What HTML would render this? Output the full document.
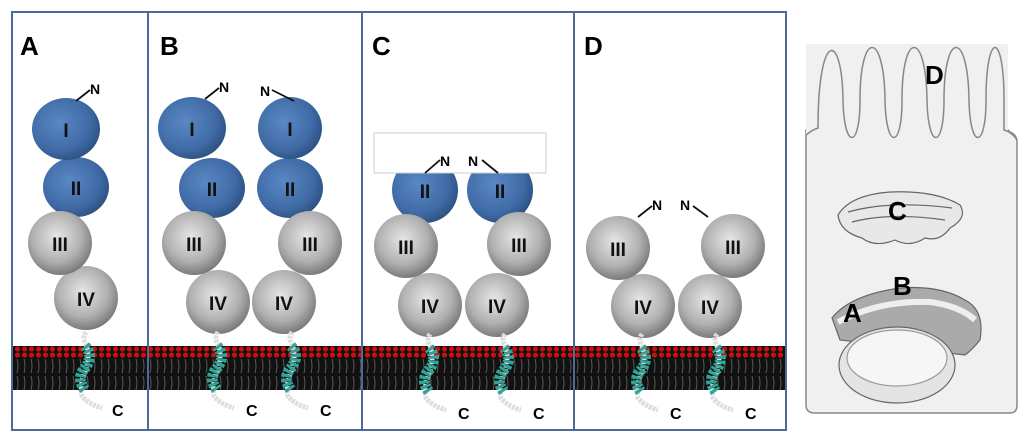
<!DOCTYPE html>
<html><head><meta charset="utf-8"><style>html,body{margin:0;padding:0;background:#fff}svg{display:block}</style></head>
<body>
<svg width="1024" height="437" viewBox="0 0 1024 437" xmlns="http://www.w3.org/2000/svg" font-family="Liberation Sans, sans-serif" font-weight="bold">
<defs>
<radialGradient id="gb" cx="0.4" cy="0.4" r="0.65"><stop offset="0" stop-color="#5a88c4"/><stop offset="0.7" stop-color="#3f6aa5"/><stop offset="1" stop-color="#2c4f80"/></radialGradient>
<radialGradient id="gg" cx="0.45" cy="0.4" r="0.65"><stop offset="0" stop-color="#e6e6e6"/><stop offset="0.6" stop-color="#b0b0b0"/><stop offset="1" stop-color="#6e6e6e"/></radialGradient>
<pattern id="lip" width="7" height="44" patternUnits="userSpaceOnUse">
<rect width="7" height="44" fill="#111"/>
<circle cx="3.5" cy="3" r="2.6" fill="#c81010"/>
<circle cx="3.5" cy="41" r="2.6" fill="#c81010"/>
<path d="M3 7 q2 7 0 14 M3 24 q2 7 0 14" stroke="#5a5a5a" stroke-width="1" fill="none"/>
</pattern>
<g id="hx"><path d="M0 332 q-4 6 0 12 q5 15 -2 30 q-4 12 -2 22 q6 8 20 12" stroke="#ddd" stroke-width="5" fill="none" stroke-dasharray="3 1"/><path d="M-1 346 q9 10 0 22 q-9 10 0 22" stroke="#2fa597" stroke-width="11" fill="none" stroke-dasharray="3 1.5"/></g>
</defs>
<rect x="12" y="346" width="774" height="44" fill="url(#lip)"/>
<g fill="none" stroke="#4d6b95" stroke-width="2">
<rect x="12" y="12" width="136" height="418"/>
<rect x="148" y="12" width="214" height="418"/>
<rect x="362" y="12" width="212" height="418"/>
<rect x="574" y="12" width="212" height="418"/>
</g>
<g font-size="26" fill="#000">
<text x="20" y="55">A</text><text x="160" y="55">B</text><text x="372" y="55">C</text><text x="584" y="55">D</text>
</g>
<g>
<ellipse cx="76" cy="187" rx="33" ry="30" fill="url(#gb)"/>
<ellipse cx="66" cy="129" rx="34" ry="31" fill="url(#gb)"/>
<circle cx="86" cy="298" r="32" fill="url(#gg)"/>
<circle cx="60" cy="243" r="32" fill="url(#gg)"/>
<ellipse cx="212" cy="188" rx="33" ry="30" fill="url(#gb)"/>
<ellipse cx="192" cy="128" rx="34" ry="31" fill="url(#gb)"/>
<ellipse cx="290" cy="188" rx="33" ry="30" fill="url(#gb)"/>
<ellipse cx="290" cy="128" rx="32" ry="31" fill="url(#gb)"/>
<circle cx="218" cy="302" r="32" fill="url(#gg)"/>
<circle cx="194" cy="243" r="32" fill="url(#gg)"/>
<circle cx="284" cy="302" r="32" fill="url(#gg)"/>
<circle cx="310" cy="243" r="32" fill="url(#gg)"/>
<circle cx="425" cy="190" r="33" fill="url(#gb)"/>
<circle cx="500" cy="190" r="33" fill="url(#gb)"/>
<rect x="374" y="133" width="172" height="40" fill="#fff" stroke="#ccc" stroke-width="1"/>
<circle cx="430" cy="305" r="32" fill="url(#gg)"/>
<circle cx="406" cy="246" r="32" fill="url(#gg)"/>
<circle cx="497" cy="305" r="32" fill="url(#gg)"/>
<circle cx="519" cy="244" r="32" fill="url(#gg)"/>
<circle cx="643" cy="306" r="32" fill="url(#gg)"/>
<circle cx="618" cy="248" r="32" fill="url(#gg)"/>
<circle cx="710" cy="306" r="32" fill="url(#gg)"/>
<circle cx="733" cy="246" r="32" fill="url(#gg)"/>
</g>
<g stroke="#111" stroke-width="1.8" fill="none">
<path d="M76 101 L90 90"/><path d="M205 99 L219 88"/><path d="M272 90 L294 101"/>
<path d="M425 173 L440 160"/><path d="M482 160 L498 173"/>
<path d="M638 217 L652 206"/><path d="M693 206 L708 217"/>
</g>
<g font-size="14" fill="#000">
<text x="90" y="94">N</text><text x="219" y="92">N</text><text x="260" y="96">N</text>
<text x="440" y="166">N</text><text x="468" y="166">N</text>
<text x="652" y="210">N</text><text x="680" y="210">N</text>
</g>
<g font-size="19" fill="#111" text-anchor="middle">
<text x="66" y="137">I</text><text x="76" y="195">II</text><text x="60" y="251">III</text><text x="86" y="306">IV</text>
<text x="192" y="136">I</text><text x="212" y="196">II</text><text x="194" y="251">III</text><text x="218" y="310">IV</text>
<text x="290" y="136">I</text><text x="290" y="196">II</text><text x="310" y="251">III</text><text x="284" y="310">IV</text>
<text x="425" y="198">II</text><text x="500" y="198">II</text><text x="406" y="254">III</text><text x="519" y="252">III</text><text x="430" y="313">IV</text><text x="497" y="313">IV</text>
<text x="618" y="256">III</text><text x="733" y="254">III</text><text x="643" y="314">IV</text><text x="710" y="314">IV</text>
</g>
<use href="#hx" x="86"/><use href="#hx" x="218"/><use href="#hx" x="292"/>
<use href="#hx" x="430" y="2"/><use href="#hx" x="505" y="2"/><use href="#hx" x="642" y="2"/><use href="#hx" x="717" y="2"/>
<g font-size="16" fill="#000">
<text x="112" y="416">C</text><text x="246" y="416">C</text><text x="320" y="416">C</text>
<text x="458" y="419">C</text><text x="533" y="419">C</text><text x="670" y="419">C</text><text x="745" y="419">C</text>
</g>
<g fill="#f0f0f0" stroke="#888" stroke-width="1.5">
<path d="M806 130 L806 405 Q806 413 815 413 L1010 413 Q1017 413 1017 405 L1017 142 Q1017 135 1010 132 L1008 130 Z"/>
</g>
<rect x="806" y="44" width="202" height="90" fill="#f0f0f0"/>
<path d="M806 135 Q812 130 818 128 C818 30 842 30 843 100 C844 150 860 150 860 100 C860 30 884 30 885 100 C886 150 902 150 902 100 C902 30 926 30 927 100 C928 150 944 150 944 100 C944 30 968 30 969 100 C970 150 986 150 986 100 C986 30 1004 30 1004 100 L1004 130 Q1012 132 1017 140" fill="none" stroke="#888" stroke-width="1.5"/>
<g stroke="#666" stroke-width="1.2" fill="#e8e8e8">
<path d="M838 215 Q850 195 890 192 Q935 190 960 205 Q968 218 950 228 Q940 242 925 238 Q910 248 895 240 Q875 248 862 238 Q840 232 838 215 Z"/>
<path d="M848 212 Q890 200 952 208 M852 222 Q890 212 945 220" fill="none"/>
<path d="M832 318 Q850 295 900 288 Q940 285 965 300 Q985 310 980 340 Q972 350 965 355 L840 340 Z" fill="#aaa"/>
<path d="M838 322 Q880 300 930 302 Q960 306 975 320" fill="none" stroke="#eee" stroke-width="6"/>
<ellipse cx="897" cy="365" rx="58" ry="38" fill="#e4e4e4"/>
<ellipse cx="897" cy="358" rx="50" ry="28" fill="#f6f6f6" stroke="#999"/>
</g>
<g font-size="26" fill="#000">
<text x="925" y="84">D</text><text x="888" y="220">C</text><text x="893" y="295">B</text><text x="843" y="322">A</text>
</g>
</svg>
</body></html>
